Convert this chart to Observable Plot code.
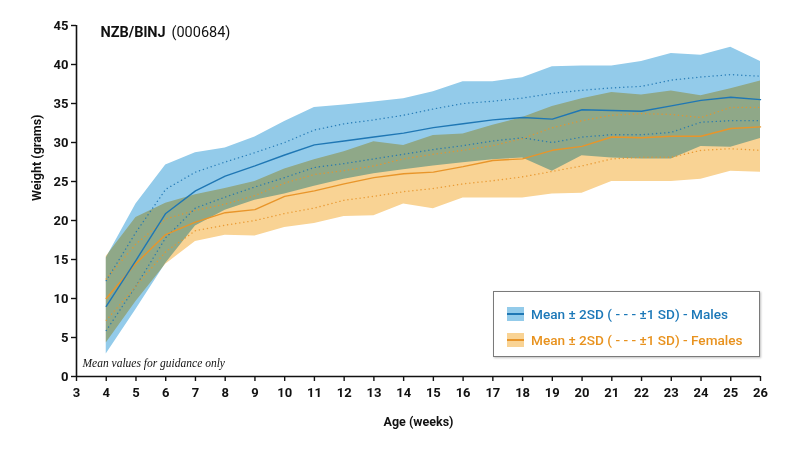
<!DOCTYPE html>
<html>
<head>
<meta charset="utf-8">
<script src="https://cdn.jsdelivr.net/npm/d3@7"></script>
<script src="https://cdn.jsdelivr.net/npm/@observablehq/plot@0.6"></script>
<style>
  html, body { margin: 0; padding: 0; background: #fff; }
  #wrap { position: relative; width: 800px; height: 449px; }
  #legend { position: absolute; left: 493px; top: 291px; width: 265px; height: 64px;
    border: 1.5px solid #7a7a7a; box-shadow: 1px 1px 2px rgba(0,0,0,0.25); background: #fff;
    font-family: Roboto, sans-serif; font-weight: 500; font-size: 13.6px; }
  .li { position: absolute; left: 13px; display: flex; align-items: center; white-space: nowrap; }
  .li svg { margin-right: 7px; }
</style>
</head>
<body>
<div id="wrap"></div>
<script>
const weeks = [4,5,6,7,8,9,10,11,12,13,14,15,16,17,18,19,20,21,22,23,24,25,26];

const maleMean  = [9.0,14.9,20.9,23.8,25.7,27.0,28.4,29.7,30.2,30.7,31.2,31.9,32.4,32.9,33.2,33.0,34.2,34.1,34.0,34.7,35.4,35.8,35.5];
const maleP2    = [15.2,22.1,27.1,28.7,29.3,30.7,32.7,34.5,34.8,35.2,35.6,36.5,37.8,37.8,38.3,39.7,39.8,39.8,40.4,41.4,41.2,42.2,40.4];
const maleP1    = [12.3,18.5,24.0,26.2,27.5,28.7,30.0,31.6,32.4,32.9,33.5,34.3,35.0,35.3,35.7,36.3,36.7,37.0,37.2,38.0,38.4,38.7,38.5];
const maleM1    = [5.9,11.6,17.8,21.6,23.0,24.3,25.5,26.8,27.3,27.9,28.5,29.1,29.6,30.2,30.6,30.0,30.7,31.0,31.0,31.3,32.6,32.8,32.8];
const maleM2    = [2.9,8.6,14.5,19.3,21.3,22.6,23.4,24.4,25.3,26.0,26.5,27.0,27.4,27.8,28.0,26.3,28.3,28.0,27.9,27.9,29.5,29.4,30.5];

const femaleMean = [10.0,14.5,18.2,19.8,21.0,21.4,23.1,23.8,24.7,25.5,26.0,26.2,26.9,27.7,27.9,29.0,29.5,30.7,30.6,30.8,30.8,31.8,32.0];
const femaleP2   = [15.4,20.4,22.2,23.3,24.1,25.0,26.6,27.8,28.8,30.1,29.6,30.9,31.1,32.2,33.2,34.6,35.6,36.4,36.1,36.6,36.0,36.9,37.9];
const femaleP1   = [12.5,17.0,20.2,21.3,22.1,23.2,24.8,25.9,26.4,27.0,27.9,28.5,29.0,29.6,30.5,31.9,32.8,33.5,33.7,33.6,33.2,34.5,34.5];
const femaleM1   = [7.2,11.6,16.0,18.7,19.4,20.0,20.9,21.6,22.6,23.1,23.7,24.1,24.7,25.1,25.6,26.3,27.0,27.9,28.1,28.1,29.0,29.2,29.0];
const femaleM2   = [4.3,9.6,14.4,17.3,18.1,18.0,19.1,19.6,20.5,20.6,22.1,21.5,22.9,22.9,22.9,23.4,23.5,25.0,25.0,25.0,25.3,26.3,26.2];

const xTicks = [3,4,5,6,7,8,9,10,11,12,13,14,15,16,17,18,19,20,21,22,23,24,25,26];
const yTicks = [0,5,10,15,20,25,30,35,40,45];

const titleBold = "NZB/BlNJ";
const titleRest = "(000684)";
const note = "Mean values for guidance only";
const xLabel = "Age (weeks)";
const yLabel = "Weight (grams)";
const legendMales = "Mean ± 2SD ( - - -  ±1 SD) - Males";
const legendFemales = "Mean ± 2SD ( - - -  ±1 SD) - Females";

const blueFill = "#93cbea", orangeFill = "#f9d394";
const blueLine = "#1f77b4", orangeLine = "#e8952a";

const rows = weeks.map((w, i) => ({
  week: w,
  mMean: maleMean[i], mP2: maleP2[i], mP1: maleP1[i], mM1: maleM1[i], mM2: maleM2[i],
  fMean: femaleMean[i], fP2: femaleP2[i], fP1: femaleP1[i], fM1: femaleM1[i], fM2: femaleM2[i]
}));

const dotted = {strokeWidth: 1.4, strokeDasharray: "0.1,4", strokeLinecap: "round", strokeOpacity: 0.9};

const chart = Plot.plot({
  width: 800, height: 449,
  marginLeft: 76, marginRight: 40, marginTop: 25, marginBottom: 73,
  style: {fontFamily: "Roboto, sans-serif", fontSize: "12.5px", fontWeight: "bold", color: "#111", background: "#fff"},
  x: {domain: [3, 26], ticks: xTicks, label: null},
  y: {domain: [0, 45], ticks: yTicks, label: null},
  marks: [
    Plot.areaY(rows, {x: "week", y1: "mM2", y2: "mP2", fill: blueFill, curve: "linear"}),
    Plot.areaY(rows, {x: "week", y1: "fM2", y2: "fP2", fill: orangeFill, mixBlendMode: "multiply", curve: "linear"}),
    Plot.line(rows, {x: "week", y: "mP1", stroke: blueLine, ...dotted}),
    Plot.line(rows, {x: "week", y: "mM1", stroke: blueLine, ...dotted}),
    Plot.line(rows, {x: "week", y: "fP1", stroke: orangeLine, ...dotted}),
    Plot.line(rows, {x: "week", y: "fM1", stroke: orangeLine, ...dotted}),
    Plot.line(rows, {x: "week", y: "fMean", stroke: orangeLine, strokeWidth: 1.4}),
    Plot.line(rows, {x: "week", y: "mMean", stroke: blueLine, strokeWidth: 1.4}),
    Plot.ruleY([0], {stroke: "#111", strokeWidth: 1.6}),
    Plot.ruleX([3], {stroke: "#111", strokeWidth: 1.6}),
    Plot.axisX({ticks: xTicks, tickSize: 5, tickPadding: 6, stroke: "#111", strokeWidth: 1.4, fontSize: 13, label: null}),
    Plot.axisY({ticks: yTicks, tickSize: 5, tickPadding: 3, stroke: "#111", strokeWidth: 1.4, fontSize: 13, label: null}),
    Plot.text([xLabel], {frameAnchor: "bottom", dy: 49, fontSize: 12.5, fontWeight: "bold", fill: "#111"}),
    Plot.text([yLabel], {frameAnchor: "left", dx: -40, rotate: -90, fontSize: 12.5, fontWeight: "bold", fill: "#111"}),
    Plot.text([titleBold], {frameAnchor: "top-left", dx: 24, dy: 1, fontSize: 14.5, fontWeight: "bold", fill: "#111", textAnchor: "start"}),
    Plot.text([titleRest], {frameAnchor: "top-left", dx: 95, dy: 1, fontSize: 14.5, fontWeight: "normal", fill: "#111", textAnchor: "start"}),
    Plot.text([note], {frameAnchor: "bottom-left", dx: 6, dy: -10, fontSize: 11.5, fontWeight: "normal", fontStyle: "italic", fontFamily: "Liberation Serif, serif", fill: "#111", textAnchor: "start"})
  ]
});

const wrap = document.getElementById("wrap");
wrap.appendChild(chart);

function swatch(fill, line) {
  return `<svg width="17" height="14"><rect x="0" y="0" width="17" height="14" fill="${fill}"/><line x1="0" x2="17" y1="7" y2="7" stroke="${line}" stroke-width="2"/></svg>`;
}
const legend = document.createElement("div");
legend.id = "legend";
legend.innerHTML =
  `<div class="li" style="top:14px;color:#1c78b8">${swatch(blueFill, blueLine)}<span>${legendMales}</span></div>` +
  `<div class="li" style="top:40px;color:#e8921e">${swatch(orangeFill, orangeLine)}<span>${legendFemales}</span></div>`;
wrap.appendChild(legend);
</script>
</body>
</html>
